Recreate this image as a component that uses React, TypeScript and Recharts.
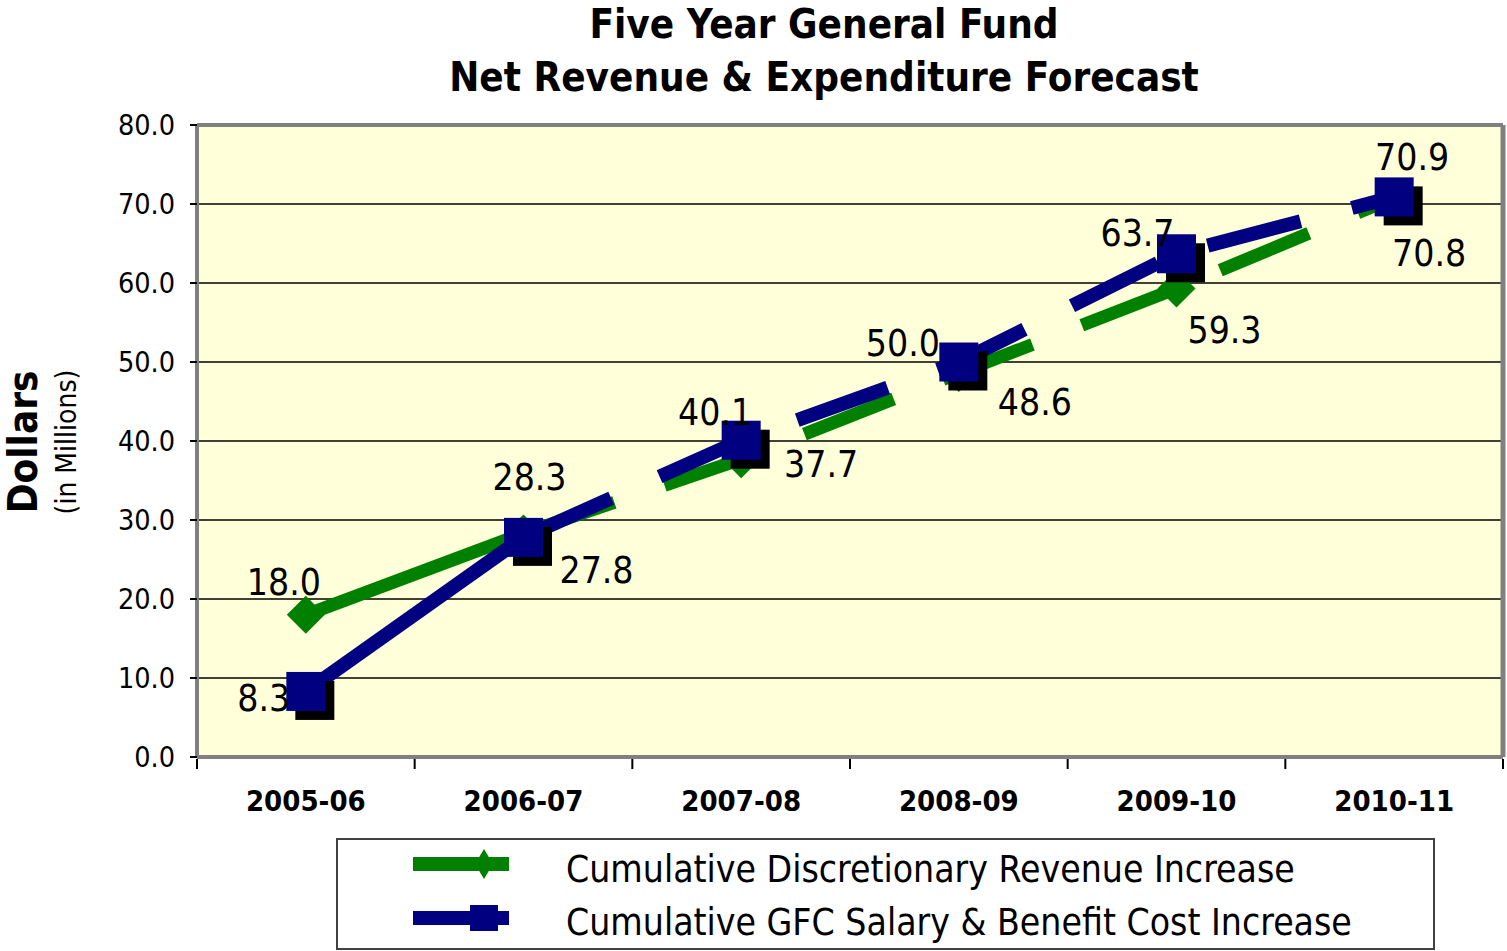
import { CartesianGrid, LabelList, Line, LineChart, ReferenceLine, XAxis, YAxis } from "recharts";

const years = ["2005-06", "2006-07", "2007-08", "2008-09", "2009-10", "2010-11"];
const revenueIncrease = [18.0, 28.3, 37.7, 48.6, 59.3, 70.8];
const salaryIncrease = [8.3, 27.8, 40.1, 50.0, 63.7, 70.9];
const yTicks = [0, 10, 20, 30, 40, 50, 60, 70, 80];

const revenueName = "Cumulative Discretionary Revenue Increase";
const salaryName = "Cumulative GFC Salary & Benefit Cost Increase";

// where each data label sits relative to its point (placed by hand in the original)
const revenueLabelShift = [[-22, -32], [6, -56], [80, 5], [76, 29], [48, 42], [35, 56]];
const salaryLabelShift = [[-42, 7], [73, 33], [-26, -28], [-56, -19], [-39, -20], [18, -39]];

const GREEN = "#008000";
const NAVY = "#000080";
const FONT = "'DejaVu Sans Condensed', 'DejaVu Sans', sans-serif";
const BAND = (1503 - 197) / years.length;

const data = years.map((year, i) => ({
  year,
  revenue: revenueIncrease[i],
  salary: salaryIncrease[i],
  revenueFirst: i <= 1 ? revenueIncrease[i] : null,
  revenueRest: i >= 1 ? revenueIncrease[i] : null,
  salaryFirst: i <= 1 ? salaryIncrease[i] : null,
  salaryRest: i >= 1 ? salaryIncrease[i] : null,
}));

const DiamondDot = (props: any) => {
  const { cx, cy, index } = props;
  if (cx == null || cy == null) return <g key={`dm${index}`} />;
  const r = 19;
  return (
    <polygon
      key={`dm${index}`}
      points={`${cx},${cy - r} ${cx + r},${cy} ${cx},${cy + r} ${cx - r},${cy}`}
      fill={GREEN}
    />
  );
};

const SquareDot = (props: any) => {
  const { cx, cy, index } = props;
  if (cx == null || cy == null) return <g key={`sq${index}`} />;
  const s = 39;
  return (
    <g key={`sq${index}`}>
      <rect x={cx - s / 2 + 9} y={cy - s / 2 + 9} width={s} height={s} fill="#000" />
      <rect x={cx - s / 2} y={cy - s / 2} width={s} height={s} fill={NAVY} />
    </g>
  );
};

const makeLabel = (shift: number[][]) => (props: any) => {
  const vb = props.viewBox || {};
  const x = props.x ?? vb.x;
  const y = props.y ?? vb.y;
  const i = props.index ?? 0;
  const [dx, dy] = shift[i] || [0, 0];
  return (
    <text
      x={x + dx}
      y={y + dy}
      textAnchor="middle"
      dominantBaseline="central"
      fontFamily={FONT}
      fontSize={37}
      fill="#000"
    >
      {Number(props.value).toFixed(1)}
    </text>
  );
};

const YearTick = (props: any) => {
  const { x, y, payload, index } = props;
  const top = y - 10;
  return (
    <g>
      <line x1={x - BAND / 2} x2={x - BAND / 2} y1={top} y2={top + 10} stroke="#000" strokeWidth={2} />
      {index === years.length - 1 && (
        <line x1={x + BAND / 2} x2={x + BAND / 2} y1={top} y2={top + 10} stroke="#000" strokeWidth={2} />
      )}
      <text
        x={x}
        y={top + 42}
        textAnchor="middle"
        dominantBaseline="central"
        fontFamily={FONT}
        fontWeight="bold"
        fontSize={29}
        fill="#000"
      >
        {payload.value}
      </text>
    </g>
  );
};

const LegendIcon = ({ kind }: { kind: "diamond" | "square" }) => (
  <svg width={100} height={30} style={{ display: "block" }}>
    <rect x={1} y={8} width={96} height={14} fill={kind === "diamond" ? GREEN : NAVY} />
    {kind === "diamond" ? (
      <polygon points="72,0 81,15 72,30 63,15" fill={GREEN} />
    ) : (
      <rect x={58} y={2} width={28} height={26} fill={NAVY} />
    )}
  </svg>
);

const App = () => {
  return (
    <div style={{ position: "absolute", left: 0, top: 0, width: 1507, height: 951, background: "#fff" }}>
      <LineChart
        width={1507}
        height={951}
        data={data}
        margin={{ top: 125, right: 2, bottom: 134, left: 0 }}
      >
        <CartesianGrid vertical={false} stroke="#000" strokeWidth={1.5} fill="#FFFFD9" fillOpacity={1} />
        <XAxis
          dataKey="year"
          height={60}
          interval={0}
          padding={{ left: BAND / 2, right: BAND / 2 }}
          tickLine={false}
          tickSize={10}
          axisLine={{ stroke: "#808080", strokeWidth: 4 }}
          tick={<YearTick />}
        />
        <YAxis
          width={197}
          domain={[0, 80]}
          ticks={yTicks}
          interval={0}
          tickFormatter={(v: number) => v.toFixed(1)}
          tick={{ fill: "#000", fontSize: 28.5, fontFamily: FONT }}
          tickSize={7}
          tickMargin={15}
          tickLine={{ stroke: "#000", strokeWidth: 2 }}
          axisLine={{ stroke: "#808080", strokeWidth: 4 }}
        />
        <YAxis
          yAxisId="frame"
          orientation="right"
          width={2}
          domain={[0, 80]}
          tick={false}
          tickLine={false}
          axisLine={{ stroke: "#808080", strokeWidth: 5 }}
        />
        <ReferenceLine y={80} stroke="#808080" strokeWidth={4} />

        <Line dataKey="revenueFirst" stroke={GREEN} strokeWidth={13} dot={false} isAnimationActive={false} legendType="none" />
        <Line dataKey="revenueRest" stroke={GREEN} strokeWidth={13} strokeDasharray="96 53" dot={false} isAnimationActive={false} legendType="none" />
        <Line dataKey="salaryFirst" stroke={NAVY} strokeWidth={14} dot={false} isAnimationActive={false} legendType="none" />
        <Line dataKey="salaryRest" stroke={NAVY} strokeWidth={14} strokeDasharray="96 53" dot={false} isAnimationActive={false} legendType="none" />

        <Line dataKey="revenue" name={revenueName} stroke="none" dot={DiamondDot} activeDot={false} isAnimationActive={false}>
          <LabelList dataKey="revenue" content={makeLabel(revenueLabelShift)} />
        </Line>
        <Line dataKey="salary" name={salaryName} stroke="none" dot={SquareDot} activeDot={false} isAnimationActive={false}>
          <LabelList dataKey="salary" content={makeLabel(salaryLabelShift)} />
        </Line>
      </LineChart>

      <svg width={1507} height={951} style={{ position: "absolute", left: 0, top: 0, pointerEvents: "none" }}>
        <text x={824} y={24} textAnchor="middle" dominantBaseline="central" fontFamily={FONT} fontWeight="bold" fontSize={40}>
          Five Year General Fund
        </text>
        <text x={824} y={77} textAnchor="middle" dominantBaseline="central" fontFamily={FONT} fontWeight="bold" fontSize={40}>
          Net Revenue &amp; Expenditure Forecast
        </text>
        <text x={23} y={442} transform="rotate(-90 23 442)" textAnchor="middle" dominantBaseline="central" fontFamily={FONT} fontWeight="bold" fontSize={40}>
          Dollars
        </text>
        <text x={66} y={442} transform="rotate(-90 66 442)" textAnchor="middle" dominantBaseline="central" fontFamily={FONT} fontSize={28}>
          (in Millions)
        </text>
      </svg>

      <div
        style={{
          position: "absolute",
          left: 336,
          top: 838,
          width: 1095,
          height: 108,
          border: "2px solid #404040",
          fontFamily: FONT,
          fontSize: 37,
          color: "#000",
        }}
      >
        <div style={{ position: "absolute", left: 74, top: 9 }}>
          <LegendIcon kind="diamond" />
        </div>
        <div style={{ position: "absolute", left: 228, top: 29, transform: "translateY(-50%)", whiteSpace: "nowrap" }}>
          {revenueName}
        </div>
        <div style={{ position: "absolute", left: 74, top: 63 }}>
          <LegendIcon kind="square" />
        </div>
        <div style={{ position: "absolute", left: 228, top: 82, transform: "translateY(-50%)", whiteSpace: "nowrap" }}>
          {salaryName}
        </div>
      </div>
    </div>
  );
};

export default App;
